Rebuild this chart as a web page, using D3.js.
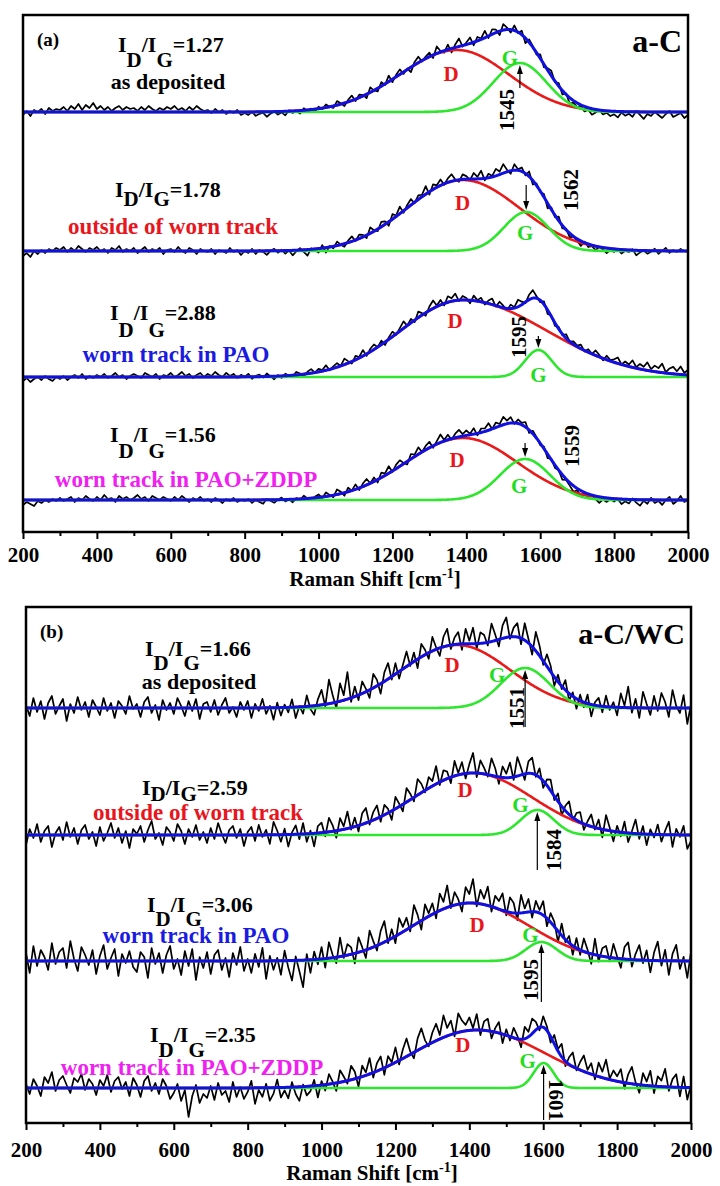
<!DOCTYPE html>
<html>
<head>
<meta charset="utf-8">
<script src="https://cdn.jsdelivr.net/npm/d3@7"></script>
<style>
  body { margin: 0; background: #fff; }
  text { font-family: "Liberation Serif", "Times New Roman", serif; font-weight: bold; }
</style>
</head>
<body>
<svg width="720" height="1186"></svg>
<script>
// ---- data ----
const shiftTicks = [200, 400, 600, 800, 1000, 1200, 1400, 1600, 1800, 2000];
const minorTicks = [300, 500, 700, 900, 1100, 1300, 1500, 1700, 1900];
const sampleStep = 10; // cm-1 between measured points
const conditions = ["as deposited", "outside of worn track", "worn track in PAO", "worn track in PAO+ZDDP"];

// panel (a) a-C
const ratiosA = ["1.27", "1.78", "2.88", "1.56"];
const gPosA = [1545, 1562, 1595, 1559];
const offsetsA = [420, 281, 155, 32];
// D band: centre, height, left width, right width
const dBandA = [[1375, 62, 155, 140], [1390, 71, 150, 154], [1391, 77, 168, 225], [1391, 62, 155, 147]];
// G band: centre, height, width
const gBandA = [[1545, 49, 72], [1562, 39, 60], [1595, 27, 36], [1559, 41, 68]];

// panel (b) a-C/WC
const ratiosB = ["1.66", "2.59", "3.06", "2.35"];
const gPosB = [1551, 1584, 1595, 1601];
const offsetsB = [415, 288, 162, 35];
const dBandB = [[1367, 63, 150, 143], [1410, 62, 160, 160], [1402, 58, 155, 160], [1420, 58, 172, 183]];
const gBandB = [[1551, 40, 66], [1584, 25, 45], [1595, 19, 42], [1601, 25, 27]];

// residual of the measured spectrum around the fit, every 10 cm-1 from 200 to 2000
const residA1 = [-3,1,-4,2,0,3,-2,4,1,3, 2,5,1,6,3,8,2,7,4,9, 3,6,2,5,1,4,6,2,5,3, 4,1,5,2,6,3,1,4,2,5,
  3,6,2,4,1,5,2,6,3,1, 2,-1,3,0,2,-2,1,-1,2,-3, -1,-3,0,-4,-2,-1,-5,-2,0,-3, -1,-4,1,-2,0,-3,2,-1,1,-2,
  2,-1,3,0,-2,4,1,-3,2,5, -2,3,1,-4,5,0,-3,4,-1,6, -3,2,5,-2,1,-5,3,6,-1,2, 4,-3,7,1,-2,5,-4,3,8,-1,
  2,6,-3,4,1,7,-2,5,3,-4, 6,2,-3,5,-1,4,-5,3,1,-2, 4,-3,2,5,-1,3,-4,1,-6,-2, -4,-1,-5,-2,-6,-3,0,-4,-2,-5,
  -3,-6,-1,-4,-2,-5,1,-3,-7,-2, -4,0,-3,-6,-2,1,-5,-3,-1,-6, -3];
const residA2 = [-5,-2,-6,0,-3,1,-2,2,0,3, 1,4,-1,3,0,5,2,-1,3,1, 4,0,2,-2,3,1,5,-1,2,0, 3,-2,1,4,-1,2,0,3,-3,1,
  2,-1,4,0,-2,3,1,-3,2,0, -1,2,-3,1,0,-2,3,-1,1,-4, 0,-2,2,-3,1,-1,-4,0,2,-2, 1,-3,0,-5,-1,2,-2,-6,1,-1,
  -4,3,-5,1,-2,4,0,-3,2,5, -1,4,2,-3,6,1,-2,5,3,-4, 5,1,7,-2,3,6,-1,4,2,8, -3,5,2,6,-1,4,7,1,-2,5,
  3,-1,6,2,8,-2,4,1,7,3, 9,2,-3,6,1,4,-2,5,-4,2, -1,3,-5,2,-2,4,-3,1,-4,0, -2,-5,1,-3,-1,-4,0,-2,-5,-1,
  -3,0,-4,-1,-2,1,-5,-2,0,-3, -1,2,-3,0,3,-2,1,-1,2,0, -1];
const residA3 = [-4,-1,-5,-2,0,-3,1,-2,-4,0, -2,1,-3,0,2,-1,3,-2,1,-1, 2,0,3,-1,1,4,0,2,-2,1, 3,1,-1,4,2,0,3,-2,2,1,
  4,0,2,5,1,3,-1,2,4,0, 3,1,5,2,0,4,1,3,-1,2, 0,3,-2,1,2,-1,3,0,-3,1, -2,2,0,-1,3,1,-2,2,4,0,
  3,1,5,-1,2,4,0,6,2,-2, 4,1,6,-2,3,5,0,4,-3,2, 5,-1,3,7,0,4,-2,6,2,-3, 4,8,1,5,-2,6,3,7,-1,4,
  2,-3,5,1,4,-2,3,6,-1,5, 2,-2,4,1,7,3,-1,5,8,2, -2,3,-4,1,-3,2,-1,4,0,3, 1,4,-1,3,0,5,2,-2,4,1,
  3,6,0,4,2,7,1,5,3,8, 2,6,4,9,1,5,7,3,8,2, 5];
const residA4 = [-5,-2,-4,-6,-1,-3,0,-2,1,-1, 2,-1,1,3,-2,2,0,4,1,-1, 3,0,5,1,2,-2,4,1,3,0, 2,5,1,3,-1,4,2,0,3,1,
  -1,3,0,4,1,-2,2,0,3,-1, 1,-2,2,0,-3,1,-1,2,-2,0, -1,1,-3,0,-2,-4,1,-1,-3,0, 2,-2,0,-3,1,-1,3,0,-2,1,
  3,-1,4,1,-2,5,2,-3,4,0, 5,-2,3,6,0,4,-3,5,2,7, -1,4,6,1,-3,5,2,7,0,4, 6,-2,3,8,1,5,-1,4,7,2,
  5,1,6,-2,4,3,7,0,5,2, 8,3,6,-1,4,2,5,-3,3,1, -2,2,-4,1,-3,0,-5,-1,-3,-6, -2,-5,-1,-4,0,-3,-6,-2,-4,-1,
  -3,0,-5,-2,-4,1,-3,-6,-1,-4, 2,-3,-1,-5,0,3,-4,-1,4,-2, 0];
const residB1 = [3,-8,10,-4,7,-11,5,12,-6,2, 9,-13,4,-5,11,-2,6,-9,8,1, -7,10,-3,5,-10,7,2,-6,12,-1, 4,-9,6,11,-5,3,-12,8,-2,5,
  -6,10,2,-8,7,-3,9,-11,4,6, -4,8,-7,3,10,-5,1,-9,6,-2, 7,-10,4,-3,9,-6,2,-12,5,-8, 3,-5,8,-11,1,-7,11,-3,-9,6,
  15,-2,24,8,-6,18,5,27,-4,10, -5,12,3,-8,14,6,-10,9,16,-3, 11,-7,4,15,-2,9,-9,13,5,-6, 14,2,-8,10,17,-4,7,12,-6,15,
  3,16,-5,11,8,-3,18,6,-7,13, 20,-2,9,14,-6,17,4,-8,19,10, -4,12,6,-9,7,-3,10,-7,4,-10, 6,-5,9,-12,3,8,-6,11,-3,5,
  -8,14,2,21,-5,9,-10,16,4,-7, 12,-3,15,6,-9,18,2,-5,13,-16, 4];
const residB2 = [-10,6,-3,11,-7,4,9,-12,2,8, -5,13,-2,7,-9,5,10,-4,3,-11, 8,-6,2,12,-3,7,-8,4,-13,6, 1,9,-7,5,14,-4,2,-10,8,3,
  -6,11,4,-9,6,-2,10,-5,3,-8, 7,-4,12,1,-8,5,9,-3,6,-11, 3,8,-6,10,-2,5,-9,13,4,-7, 6,-12,2,9,-5,11,-8,3,-13,7,
  10,-4,14,6,-7,12,3,17,-2,9, -6,11,15,-3,8,13,-5,10,4,-9, 12,3,-7,14,6,-4,16,9,-2,11, 5,18,-3,10,7,-6,15,2,12,-5,
  9,20,-4,13,6,-2,17,8,-7,11, 4,15,-3,19,7,-6,12,16,-2,9, -7,6,11,-4,8,-9,5,13,-3,7, 10,-6,4,12,-2,9,-8,15,3,-10,
  6,-4,11,-9,2,14,-5,8,-11,5, -3,10,-7,4,13,-12,6,-2,9,-14, -6];
const residB3 = [8,-12,15,-5,11,4,-9,18,-3,9, 13,-7,20,2,-10,14,6,-4,11,-13, 5,16,-8,3,12,-15,7,-2,10,-6, -11,9,4,-17,13,-3,8,-12,6,15,
  -8,2,-14,10,-5,12,-19,4,-7,9, -13,6,11,-9,3,-16,8,-4,14,-10, 2,-12,7,-6,13,-18,5,-9,3,-14, 10,-7,-20,4,-11,-27,6,-13,8,-5,
  12,-9,16,3,-6,19,-2,11,7,-10, 15,4,-8,18,6,-5,13,21,-3,9, -7,16,5,12,-4,20,8,-9,14,3, 11,-6,17,7,22,-2,13,5,-8,16,
  9,24,-3,14,6,19,-5,12,8,17, -4,15,10,-7,18,4,13,-6,11,3, 14,-8,9,5,-11,12,-3,7,-9,10, -5,13,3,-10,16,-6,8,11,-4,14,
  2,-9,12,17,-7,6,15,-3,10,-12, 8,19,-5,11,-14,7,16,-8,4,-17, 9];
const residB4 = [4,-6,9,2,-8,11,5,16,-3,8, 12,3,-5,10,6,14,-2,9,4,-7, 8,2,13,-4,7,11,-1,6,-8,10, 3,-9,7,12,-3,5,-6,9,2,-11,
  -5,4,-13,-2,-29,-8,3,-15,-6,-10, 2,-12,5,-7,-3,-14,6,-9,1,-11, -4,7,-16,-2,-9,4,-13,-6,8,-10, -3,-11,5,-7,-14,2,-9,-5,6,-12,
  4,-6,10,2,-8,12,5,-3,14,7, -9,11,3,16,-5,8,13,-7,10,2, 15,-4,9,18,3,-6,12,20,6,-2, 10,17,4,22,8,14,-3,19,11,6,
  13,2,16,-5,9,12,-7,4,11,-9, 6,-4,10,3,-8,12,5,15,8,-3, 11,4,-6,9,2,13,-5,7,14,-2, 8,16,3,11,-4,14,6,19,1,10,
  5,13,-6,9,17,2,-8,12,4,15, -7,10,6,18,-4,8,13,-9,11,-12, 3];

// ---- layout ----
const condColors = ["#000000", "#e8161c", "#1a1ae0", "#f020f0"];
const panels = [
  { left: 23, right: 688, top: 15, bottom: 532, tickPad: 8, letter: "(a)", film: "a-C", filmSize: 32,
    offsets: offsetsA, dBand: dBandA, gBand: gBandA, ratios: ratiosA, gPos: gPosA,
    resid: [residA1, residA2, residA3, residA4],
    ratioPos: [[118, 52, 15], [115, 197, 9], [110, 320, 17], [110, 442, 16]],
    condPos: [[168, 89], [173, 234], [176, 362], [186, 487]],
    dLab: [[-6, 31], [0, 30], [-8, 28], [-6, 29]],
    gLab: [[-10, 2], [-1, 28], [0, 32], [-6, 34]],
    // up?, tip gap, tail, text dx, text dy, rotation
    arrows: [[true, 2, 25, -13, 47, -90], [false, -2, -27, 44, -22, -90], [false, -2, -14, -20, -13, -90], [false, -2, -16, 47, -13, -90]],
    titleX: 375, titleY: 586 },
  { left: 26, right: 691, top: 607, bottom: 1123, tickPad: 12, letter: "(b)", film: "a-C/WC", filmSize: 30,
    offsets: offsetsB, dBand: dBandB, gBand: gBandB, ratios: ratiosB, gPos: gPosB,
    resid: [residB1, residB2, residB3, residB4],
    ratioPos: [[145, 656, 14], [142, 795, 6], [147, 912, 14], [150, 1042, 15]],
    condPos: [[199, 689], [198, 820], [196, 943], [192, 1075]],
    dLab: [[-5, 27], [-8, 24], [7, 29], [-14, 22]],
    gLab: [[-28, 14], [-17, 2], [-11, 0], [-16, 5]],
    arrows: [[true, 2, 59, -8, 40, -90], [true, 2, 60, 16, 40, -90], [true, 2, 60, -11, 38, -90], [true, 2, 57, 13, 37, 90]],
    titleX: 372, titleY: 1180 }
];

const dShape = (w, p) => p[1] * Math.exp(-((w - p[0]) ** 2) / (2 * (w < p[0] ? p[2] : p[3]) ** 2));
const gShape = (w, p) => p[1] * Math.exp(-((w - p[0]) ** 2) / (2 * p[2] ** 2));

const svg = d3.select("svg");

panels.forEach(function(p) {
  const x = d3.scaleLinear().domain([200, 2000]).range([p.left, p.right]);
  const y = d3.scaleLinear().domain([0, p.bottom - p.top]).range([p.bottom, p.top]);
  const line = d3.line().x(d => x(d[0])).y(d => y(d[1]));
  const fine = d3.range(200, 2000.01, 2);
  const g = svg.append("g");

  p.offsets.forEach(function(off, i) {
    const D = p.dBand[i], G = p.gBand[i];
    const measured = p.resid[i].map((r, k) => {
      const w = 200 + k * sampleStep;
      return [w, off + dShape(w, D) + gShape(w, G) + r];
    });
    g.append("path").attr("d", line(measured))
      .attr("fill", "none").attr("stroke", "#000").attr("stroke-width", 1.7).attr("stroke-linejoin", "round");
    g.append("path").attr("d", line(fine.map(w => [w, off + dShape(w, D)])))
      .attr("fill", "none").attr("stroke", "#ea1a1a").attr("stroke-width", 2.6);
    g.append("path").attr("d", line(fine.map(w => [w, off + gShape(w, G)])))
      .attr("fill", "none").attr("stroke", "#2ee62e").attr("stroke-width", 2.6);
    g.append("path").attr("d", line(fine.map(w => [w, off + dShape(w, D) + gShape(w, G)])))
      .attr("fill", "none").attr("stroke", "#1010e0").attr("stroke-width", 3);

    // band labels
    const dl = p.dLab[i], gl = p.gLab[i];
    g.append("text").attr("x", x(D[0]) + dl[0]).attr("y", y(off + D[1]) + dl[1])
      .attr("text-anchor", "middle").attr("font-size", 21).attr("fill", "#e8161c").text("D");
    g.append("text").attr("x", x(G[0]) + gl[0]).attr("y", y(off + G[1]) + gl[1])
      .attr("text-anchor", "middle").attr("font-size", 21).attr("fill", "#22dd22").text("G");

    // arrow to G band position
    const a = p.arrows[i];
    const ax = x(p.gPos[i]);
    const peakY = y(off + G[1]);
    const tip = peakY + a[1], tail = peakY + a[2];
    const s = a[0] ? 1 : -1;
    g.append("line").attr("x1", ax).attr("x2", ax).attr("y1", tail).attr("y2", tip + s * 6)
      .attr("stroke", "#000").attr("stroke-width", 1.2);
    g.append("path").attr("d", `M${ax},${tip}L${ax - 3},${tip + s * 9}L${ax + 3},${tip + s * 9}Z`).attr("fill", "#000");
    g.append("text").attr("transform", `translate(${ax + a[3]},${peakY + a[4]}) rotate(${a[5]})`)
      .attr("text-anchor", "middle").attr("dy", "0.35em").attr("font-size", 21).attr("font-weight", "normal")
      .text(p.gPos[i]);

    // I_D/I_G ratio label
    const rp = p.ratioPos[i];
    const t = g.append("text").attr("x", rp[0]).attr("y", rp[1]).attr("font-size", 22).attr("fill", "#000");
    t.append("tspan").text("I");
    t.append("tspan").attr("dy", rp[2]).attr("font-size", 21).text("D");
    t.append("tspan").attr("dy", -rp[2]).text("/I");
    t.append("tspan").attr("dy", rp[2]).attr("font-size", 21).text("G");
    t.append("tspan").attr("dy", -rp[2]).text("=" + p.ratios[i]);

    const cp = p.condPos[i];
    g.append("text").attr("x", cp[0]).attr("y", cp[1]).attr("text-anchor", "middle")
      .attr("font-size", i === 0 ? 22 : 23).attr("fill", condColors[i]).text(conditions[i]);
  });

  // axis with major and minor ticks
  const axis = svg.append("g").attr("transform", `translate(0,${p.bottom})`)
    .call(d3.axisBottom(x).tickValues(shiftTicks).tickSize(7).tickPadding(p.tickPad).tickFormat(d3.format("d")));
  axis.select(".domain").remove();
  axis.selectAll(".tick line").attr("stroke-width", 2);
  axis.selectAll("text").attr("font-size", 21).attr("font-family", "Liberation Serif, serif").attr("font-weight", "bold").attr("fill", "#000");
  const minor = svg.append("g").attr("transform", `translate(0,${p.bottom})`)
    .call(d3.axisBottom(x).tickValues(minorTicks).tickSize(4).tickFormat(""));
  minor.select(".domain").remove();
  minor.selectAll(".tick line").attr("stroke-width", 2);

  // frame
  svg.append("rect").attr("x", p.left).attr("y", p.top).attr("width", p.right - p.left).attr("height", p.bottom - p.top)
    .attr("fill", "none").attr("stroke", "#000").attr("stroke-width", 2.5);

  svg.append("text").attr("x", p.left + 14).attr("y", p.top + 31).attr("font-size", 19).text(p.letter);
  svg.append("text").attr("x", p.right - 6).attr("y", p.top + 37).attr("text-anchor", "end")
    .attr("font-size", p.filmSize).text(p.film);

  const title = svg.append("text").attr("x", p.titleX).attr("y", p.titleY).attr("text-anchor", "middle").attr("font-size", 21);
  title.append("tspan").text("Raman Shift [cm");
  title.append("tspan").attr("dy", -8).attr("font-size", 14).text("-1");
  title.append("tspan").attr("dy", 8).text("]");
});
</script>
</body>
</html>
